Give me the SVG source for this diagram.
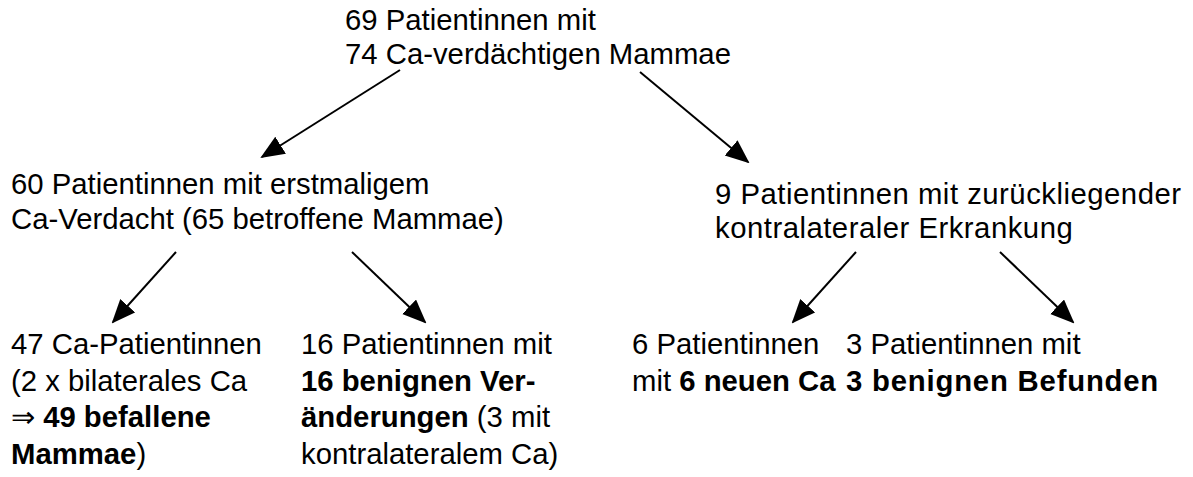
<svg xmlns="http://www.w3.org/2000/svg" width="1193" height="477" viewBox="0 0 1193 477">
<style>
text{font-family:"Liberation Sans",Arial,sans-serif;font-size:29.3px;fill:#000}
.b{font-weight:bold}
.c{stroke:#000;stroke-width:2;fill:none;marker-end:url(#ah)}
</style>
<defs>
<marker id="ah" markerUnits="userSpaceOnUse" markerWidth="24" markerHeight="22" refX="22" refY="10" orient="auto">
<path d="M0,0 L24,10 L0,20 Z" fill="#000"/>
</marker>
</defs>
<rect width="1193" height="477" fill="#fff"/>
<g id="connectors">
<line class="c" x1="400" y1="70" x2="262" y2="157"/>
<line class="c" x1="640" y1="72" x2="748" y2="162"/>
<line class="c" x1="176" y1="252" x2="113" y2="322"/>
<line class="c" x1="352" y1="252" x2="425" y2="322"/>
<line class="c" x1="856" y1="252" x2="793" y2="322"/>
<line class="c" x1="1000" y1="252" x2="1073" y2="322"/>
</g>
<g id="n0"><text x="345" y="30">69 Patientinnen mit<tspan x="345" y="64">74 Ca-verdächtigen Mammae</tspan></text></g>
<g id="n1"><text x="11" y="194">60 Patientinnen mit erstmaligem<tspan x="11" y="229">Ca-Verdacht (65 betroffene Mammae)</tspan></text></g>
<g id="n2"><text x="715" y="204" letter-spacing="0.5">9 Patientinnen mit zurückliegender<tspan x="715" y="238">kontralateraler Erkrankung</tspan></text></g>
<g id="n3"><text x="11" y="354">47 Ca-Patientinnen<tspan x="11" y="391">(2 x bilaterales Ca</tspan><tspan x="11" y="427">⇒ <tspan class="b">49 befallene</tspan></tspan><tspan x="11" y="464" class="b">Mammae</tspan>)</text></g>
<g id="n4"><text x="301" y="354">16 Patientinnen mit<tspan x="301" y="391" class="b">16 benignen Ver-</tspan><tspan x="301" y="427"><tspan class="b">änderungen</tspan> (3 mit</tspan><tspan x="301" y="464">kontralateralem Ca)</tspan></text></g>
<g id="n5"><text x="632" y="354">6 Patientinnen<tspan x="632" y="391">mit <tspan class="b">6 neuen Ca</tspan></tspan></text></g>
<g id="n6"><text x="846" y="354">3 Patientinnen mit<tspan x="846" y="391" class="b" letter-spacing="0.8">3 benignen Befunden</tspan></text></g>
</svg>
